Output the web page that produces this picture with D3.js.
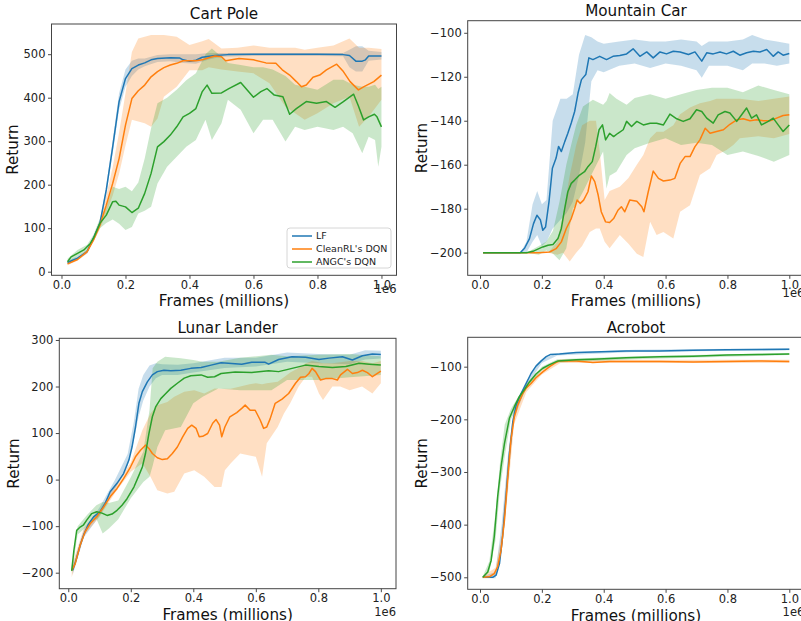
<!DOCTYPE html>
<html>
<head>
<meta charset="utf-8">
<script src="https://cdn.jsdelivr.net/npm/d3@7"></script>
<style>
  body { margin: 0; background: #fff; }
  svg { font-family: "DejaVu Sans", sans-serif; }
</style>
</head>
<body>
<div id="chart"></div>
<script>
// ---- data: [frames (millions), mean return] and bands [frames, lower, upper]
const seriesNames = ["LF", "CleanRL's DQN", "ANGC's DQN"];
const seriesColors = ["#1f77b4", "#ff7f0e", "#2ca02c"];
const xTicks = [0, 0.2, 0.4, 0.6, 0.8, 1.0];

const cartPoleYTicks = [0, 100, 200, 300, 400, 500];
const mountainCarYTicks = [-200, -180, -160, -140, -120, -100];
const lunarLanderYTicks = [-200, -100, 0, 100, 200, 300];
const acrobotYTicks = [-500, -400, -300, -200, -100];

const cartPoleLF = [[0.019,21],[0.05,31],[0.08,46],[0.1,77],[0.12,111],[0.14,188],[0.16,287],[0.18,391],[0.2,444],[0.22,467],[0.24,475],[0.26,480],[0.28,487],[0.3,490],[0.34,492],[0.37,491],[0.38,487],[0.4,484],[0.42,486],[0.44,493],[0.48,497],[0.52,499],[0.6,500],[0.7,500],[0.8,500],[0.88,499],[0.9,497],[0.92,484],[0.94,484],[0.95,487],[0.96,496],[1.0,496]];
const cartPoleLFBand = [[0.019,17,25],[0.05,27,35],[0.08,42,50],[0.1,72,82],[0.12,105,117],[0.14,178,198],[0.16,272,302],[0.18,372,410],[0.2,425,465],[0.22,450,485],[0.24,465,490],[0.26,472,490],[0.3,482,498],[0.34,484,500],[0.38,480,500],[0.42,478,500],[0.46,488,503],[0.5,494,503],[0.6,496,503],[0.7,496,503],[0.8,496,503],[0.88,495,503],[0.9,470,510],[0.92,460,518],[0.94,460,518],[0.96,485,508],[1.0,488,505]];
const cartPoleCleanRL = [[0.019,18],[0.05,28],[0.08,46],[0.1,73],[0.12,107],[0.14,153],[0.16,203],[0.18,260],[0.2,337],[0.22,398],[0.24,416],[0.26,429],[0.28,448],[0.3,460],[0.32,469],[0.34,475],[0.36,479],[0.38,485],[0.42,485],[0.44,487],[0.46,492],[0.48,496],[0.5,494],[0.513,485],[0.555,490],[0.6,487],[0.639,480],[0.67,479],[0.69,464],[0.713,452],[0.734,437],[0.75,425],[0.765,429],[0.786,447],[0.807,452],[0.828,464],[0.86,477],[0.881,460],[0.902,437],[0.928,418],[0.944,425],[0.976,437],[1.0,452]];
const cartPoleCleanRLBand = [[0.019,15,22],[0.05,25,32],[0.08,42,50],[0.1,68,80],[0.12,98,118],[0.14,135,175],[0.16,175,240],[0.18,225,320],[0.2,290,410],[0.22,349,505],[0.24,345,536],[0.26,341,540],[0.28,333,544],[0.3,352,544],[0.32,402,544],[0.36,425,540],[0.4,463,521],[0.44,463,530],[0.46,470,535],[0.5,465,513],[0.55,460,515],[0.6,456,520],[0.65,433,515],[0.7,379,515],[0.73,364,515],[0.76,349,510],[0.8,364,515],[0.85,387,520],[0.9,402,536],[0.93,333,515],[0.96,356,515],[1.0,395,512]];
const cartPoleANGC = [[0.019,23],[0.03,34],[0.05,42],[0.07,50],[0.09,65],[0.1,77],[0.12,111],[0.14,130],[0.16,161],[0.17,162],[0.18,153],[0.2,149],[0.22,136],[0.24,146],[0.26,180],[0.28,226],[0.3,287],[0.32,299],[0.34,314],[0.36,333],[0.38,356],[0.4,364],[0.42,375],[0.44,414],[0.455,429],[0.47,410],[0.5,411],[0.523,421],[0.56,435],[0.6,401],[0.623,414],[0.642,421],[0.665,406],[0.692,402],[0.713,362],[0.734,375],[0.765,391],[0.797,387],[0.828,391],[0.855,378],[0.881,391],[0.913,408],[0.928,381],[0.944,349],[0.96,356],[0.978,362],[0.986,356],[1.0,333]];
const cartPoleANGCBand = [[0.019,18,30],[0.05,35,50],[0.08,48,62],[0.1,70,85],[0.12,100,122],[0.14,112,150],[0.16,120,195],[0.18,110,190],[0.2,96,195],[0.22,103,185],[0.24,134,205],[0.26,140,260],[0.28,149,330],[0.3,203,387],[0.33,241,400],[0.36,264,418],[0.39,287,440],[0.42,303,456],[0.45,349,500],[0.47,303,513],[0.5,341,494],[0.52,395,480],[0.56,372,475],[0.6,318,470],[0.63,349,470],[0.66,349,465],[0.7,299,450],[0.73,333,430],[0.76,326,425],[0.8,333,418],[0.85,326,441],[0.88,333,441],[0.91,318,430],[0.94,272,425],[0.96,310,425],[0.98,303,430],[0.99,241,420],[1.0,287,425]];

const mountainCarLF = [[0.01,-200],[0.13,-200],[0.144,-198],[0.16,-193.6],[0.173,-186.8],[0.184,-183],[0.195,-185],[0.203,-189.8],[0.212,-188.3],[0.223,-176.9],[0.234,-161.6],[0.246,-157],[0.254,-151.7],[0.263,-154],[0.274,-149.5],[0.284,-145.7],[0.295,-141],[0.306,-135.8],[0.317,-127.4],[0.328,-121.3],[0.342,-119],[0.352,-111.4],[0.365,-112.2],[0.387,-110.7],[0.409,-112.2],[0.43,-110.7],[0.452,-110.3],[0.474,-109.6],[0.495,-107.3],[0.517,-110.7],[0.539,-108.7],[0.56,-111.4],[0.582,-108.7],[0.603,-109.6],[0.625,-108.4],[0.647,-108.7],[0.674,-109.9],[0.695,-108.7],[0.717,-112.9],[0.733,-109.1],[0.754,-109.6],[0.776,-108.7],[0.797,-109.6],[0.819,-108.4],[0.84,-110.2],[0.862,-109.1],[0.884,-108.4],[0.905,-108.7],[0.927,-107.6],[0.948,-110.7],[0.964,-108.7],[0.98,-110.2],[1.0,-109.4]];
const mountainCarLFBand = [[0.01,-200,-200],[0.13,-200,-200],[0.15,-200,-195],[0.17,-195,-178],[0.185,-192,-172],[0.2,-197,-178],[0.215,-195,-176],[0.235,-189,-140],[0.26,-185,-130],[0.28,-182,-130],[0.3,-176.9,-128],[0.32,-165,-110],[0.34,-150,-101],[0.36,-122,-102],[0.38,-117,-104],[0.4,-118,-105],[0.45,-115,-104],[0.5,-114,-103],[0.55,-116,-104],[0.6,-114,-104],[0.65,-115,-103],[0.7,-117,-104],[0.717,-120.5,-106],[0.74,-115,-104],[0.8,-115,-104],[0.85,-117,-103],[0.88,-114,-101],[0.92,-114,-103],[0.96,-115,-104],[1.0,-114,-105]];
const mountainCarCleanRL = [[0.01,-200],[0.19,-200],[0.225,-199.7],[0.246,-198.2],[0.263,-195.1],[0.279,-189],[0.295,-184.5],[0.306,-179.9],[0.314,-176.1],[0.324,-177.6],[0.335,-176.1],[0.349,-172.3],[0.36,-165.1],[0.371,-167.7],[0.382,-173.8],[0.392,-181.4],[0.406,-186],[0.419,-186.3],[0.432,-184.5],[0.446,-180.7],[0.457,-179.1],[0.468,-181.4],[0.484,-176.1],[0.507,-176.6],[0.523,-179.1],[0.53,-181.4],[0.544,-172.3],[0.56,-162.9],[0.577,-166.2],[0.593,-167.4],[0.614,-167],[0.63,-166.2],[0.647,-159.4],[0.663,-156.3],[0.679,-156.3],[0.695,-151.8],[0.711,-148.7],[0.728,-143.4],[0.744,-145.7],[0.765,-144.9],[0.787,-144.1],[0.808,-141.6],[0.83,-139.6],[0.851,-139.1],[0.873,-140],[0.894,-139.6],[0.916,-140],[0.938,-140],[0.959,-138.8],[0.98,-137.6],[1.0,-137.3]];
const mountainCarCleanRLBand = [[0.01,-200,-200],[0.22,-200,-200],[0.25,-201,-195],[0.268,-200,-183],[0.29,-204,-165],[0.311,-200,-151],[0.33,-197,-142],[0.355,-190.6,-140],[0.375,-189,-140],[0.387,-189,-154],[0.403,-195,-176],[0.419,-198,-172],[0.452,-192,-170],[0.48,-196,-166],[0.507,-200.5,-160],[0.528,-202,-155.6],[0.55,-186,-148],[0.571,-192,-145],[0.593,-190.6,-145],[0.625,-193.6,-142],[0.647,-181.4,-137],[0.679,-178.4,-134],[0.711,-164.7,-132],[0.744,-161.6,-131],[0.765,-155.6,-130],[0.797,-153.3,-130],[0.819,-151,-130],[0.84,-148,-130],[0.9,-147,-131],[0.95,-148,-130],[1.0,-146,-129]];
const mountainCarANGC = [[0.01,-200],[0.15,-200],[0.171,-199.4],[0.203,-197.4],[0.22,-196.6],[0.236,-196.3],[0.252,-193.6],[0.263,-189],[0.274,-179.9],[0.284,-172.3],[0.295,-168.5],[0.306,-167],[0.322,-164.7],[0.338,-163.2],[0.349,-160.9],[0.363,-158.6],[0.374,-151.8],[0.385,-144.1],[0.396,-141.9],[0.406,-148.7],[0.419,-145.7],[0.432,-147.2],[0.446,-145.7],[0.463,-144.1],[0.474,-140.3],[0.49,-142.6],[0.507,-140.3],[0.528,-141.9],[0.55,-141.1],[0.571,-141.1],[0.593,-141.9],[0.614,-137],[0.636,-139.1],[0.657,-140.3],[0.679,-139.1],[0.7,-135],[0.717,-135.8],[0.733,-138.8],[0.754,-141.1],[0.77,-137.3],[0.792,-135.8],[0.808,-136.5],[0.83,-140.3],[0.846,-137.3],[0.862,-134.2],[0.878,-138.8],[0.894,-137.3],[0.91,-141.9],[0.932,-140.3],[0.948,-138.8],[0.964,-141.9],[0.98,-144.9],[1.0,-141.9]];
const mountainCarANGCBand = [[0.01,-200,-200],[0.15,-200,-200],[0.19,-201,-197],[0.214,-199,-195],[0.236,-200.5,-190],[0.257,-203.5,-176.9],[0.279,-198,-160],[0.3,-180,-148],[0.311,-178,-141.9],[0.333,-172.3,-133.5],[0.365,-163.2,-130.4],[0.398,-154,-132.7],[0.409,-170.8,-131],[0.419,-165,-127.4],[0.441,-163.2,-130],[0.474,-155.6,-132.7],[0.5,-152.5,-129.7],[0.55,-150,-128],[0.6,-148,-130],[0.65,-151,-128],[0.7,-150,-126],[0.75,-151,-125],[0.8,-155.6,-125],[0.85,-154,-127],[0.9,-156,-124],[0.95,-158.6,-126],[1.0,-155.6,-128]];

const lunarLanderLF = [[0.014,-195],[0.025,-173],[0.038,-141],[0.051,-116],[0.065,-95],[0.081,-80],[0.102,-69],[0.118,-51],[0.134,-26],[0.156,-8],[0.177,13],[0.194,42],[0.204,70],[0.215,113],[0.226,164],[0.237,189],[0.253,210],[0.269,225],[0.285,232],[0.306,235],[0.328,234],[0.36,235],[0.392,239],[0.425,241],[0.457,246],[0.489,251],[0.512,250],[0.555,248],[0.587,252],[0.63,252],[0.641,248],[0.673,258],[0.716,264],[0.759,263],[0.802,258],[0.834,261],[0.877,264],[0.909,257],[0.941,266],[0.973,270],[1.0,269]];
const lunarLanderLFBand = [[0.014,-205,-185],[0.05,-124,-108],[0.1,-78,-60],[0.15,-20,0],[0.19,30,55],[0.21,85,125],[0.225,135,195],[0.24,170,225],[0.26,200,245],[0.28,218,250],[0.3,225,248],[0.35,225,247],[0.4,230,250],[0.5,240,262],[0.6,243,262],[0.7,253,273],[0.8,250,270],[0.9,248,268],[0.95,258,278],[1.0,260,277]];
const lunarLanderCleanRL = [[0.011,-195],[0.022,-181],[0.038,-141],[0.054,-112],[0.07,-95],[0.091,-80],[0.113,-59],[0.134,-37],[0.156,-19],[0.177,2],[0.199,27],[0.215,49],[0.231,63],[0.247,74],[0.258,67],[0.269,56],[0.285,47],[0.301,43],[0.317,45],[0.333,56],[0.349,70],[0.366,92],[0.382,110],[0.395,117],[0.409,110],[0.419,92],[0.43,93],[0.446,99],[0.462,121],[0.473,129],[0.484,117],[0.491,92],[0.501,113],[0.517,135],[0.539,144],[0.555,153],[0.566,160],[0.582,149],[0.598,149],[0.614,128],[0.625,110],[0.635,113],[0.646,131],[0.662,164],[0.684,173],[0.705,185],[0.727,207],[0.743,220],[0.759,221],[0.77,228],[0.78,239],[0.791,232],[0.807,214],[0.823,217],[0.845,217],[0.861,214],[0.871,225],[0.893,237],[0.909,228],[0.925,230],[0.941,235],[0.957,230],[0.973,221],[0.989,228],[1.0,233]];
const lunarLanderCleanRLBand = [[0.011,-210,-185],[0.05,-120,-104],[0.1,-80,-66],[0.15,-28,-12],[0.2,17,37],[0.237,35,106],[0.263,6,142],[0.285,-23,160],[0.317,-30,167],[0.339,-26,178],[0.371,13,189],[0.403,20,192],[0.435,6,185],[0.468,-16,196],[0.49,-16,195],[0.501,20,195],[0.52,35,195],[0.55,56,200],[0.58,52,205],[0.6,49,207],[0.62,6,205],[0.635,78,207],[0.67,113,210],[0.69,142,220],[0.71,164,230],[0.737,200,240],[0.76,221,250],[0.78,221,255],[0.802,185,252],[0.815,171,250],[0.845,200,250],[0.87,200,252],[0.9,192,255],[0.94,200,255],[0.973,185,250],[1.0,207,255]];
const lunarLanderANGC = [[0.011,-196],[0.018,-152],[0.027,-109],[0.038,-102],[0.048,-98],[0.059,-87],[0.075,-73],[0.091,-69],[0.108,-72],[0.124,-77],[0.14,-74],[0.156,-66],[0.172,-55],[0.188,-41],[0.21,-16],[0.226,9],[0.237,27],[0.247,56],[0.258,99],[0.269,135],[0.28,157],[0.296,174],[0.312,185],[0.328,196],[0.349,207],[0.371,218],[0.392,223],[0.425,225],[0.446,220],[0.468,221],[0.489,228],[0.534,231],[0.587,230],[0.641,234],[0.673,232],[0.716,239],[0.759,246],[0.802,243],[0.845,241],[0.888,243],[0.93,250],[0.963,248],[1.0,246]];
const lunarLanderANGCBand = [[0.011,-200,-190],[0.03,-118,-100],[0.06,-100,-76],[0.09,-84,-55],[0.11,-116,-48],[0.13,-105,-50],[0.16,-85,-45],[0.2,-40,5],[0.24,-5,60],[0.26,6,150],[0.27,30,239],[0.285,70,253],[0.31,106,264],[0.36,113,261],[0.4,164,257],[0.43,178,253],[0.48,196,253],[0.55,192,262],[0.65,192,268],[0.7,214,265],[0.8,214,268],[0.9,220,270],[1.0,225,265]];

const acrobotLF = [[0.009,-500],[0.041,-500],[0.052,-496],[0.063,-474],[0.073,-423],[0.084,-347],[0.095,-265],[0.106,-205],[0.117,-173],[0.133,-151],[0.149,-132],[0.165,-113],[0.181,-99],[0.198,-89],[0.214,-81],[0.227,-77],[0.257,-76],[0.311,-73],[0.365,-72],[0.473,-70],[0.581,-70],[0.689,-69],[0.797,-68],[1.0,-67]];
const acrobotLFBand = [[0.009,-502,-498],[0.05,-502,-490],[0.07,-450,-400],[0.09,-320,-270],[0.11,-200,-175],[0.15,-137,-127],[0.2,-93,-86],[0.25,-79,-74],[0.5,-72,-68],[1.0,-69,-65]];
const acrobotCleanRL = [[0.009,-500],[0.03,-499],[0.046,-493],[0.057,-480],[0.068,-449],[0.079,-392],[0.09,-309],[0.1,-239],[0.111,-195],[0.122,-173],[0.138,-151],[0.149,-141],[0.165,-132],[0.181,-121],[0.203,-110],[0.225,-100],[0.246,-92],[0.257,-89],[0.311,-89],[0.365,-92],[0.419,-90],[0.5,-90],[0.581,-90],[0.689,-91],[0.797,-90],[0.9,-89],[1.0,-90]];
const acrobotCleanRLBand = [[0.009,-502,-498],[0.05,-495,-482],[0.07,-450,-420],[0.09,-340,-280],[0.11,-210,-185],[0.15,-148,-134],[0.2,-115,-106],[0.26,-93,-86],[0.5,-93,-87],[1.0,-93,-87]];
const acrobotANGC = [[0.009,-500],[0.025,-490],[0.036,-468],[0.046,-423],[0.057,-347],[0.068,-290],[0.079,-246],[0.095,-198],[0.111,-176],[0.127,-157],[0.144,-143],[0.16,-129],[0.181,-114],[0.203,-103],[0.225,-96],[0.252,-89],[0.311,-87],[0.365,-86],[0.473,-83],[0.581,-81],[0.689,-80],[0.797,-78],[0.9,-77],[1.0,-76]];
const acrobotANGCBand = [[0.009,-502,-498],[0.03,-490,-470],[0.05,-430,-380],[0.065,-330,-280],[0.08,-270,-210],[0.1,-200,-180],[0.15,-142,-132],[0.2,-107,-100],[0.25,-92,-86],[0.5,-86,-80],[1.0,-78,-74]];

// ---- layout
const panels = [
  { title: "Cart Pole", frame: {left: 51.5, right: 396.5, top: 24, bottom: 275.3},
    xDomain: [-0.03125, 1.047], yDomain: [-8.3, 569.4], yTicks: cartPoleYTicks,
    lines: [cartPoleLF, cartPoleCleanRL, cartPoleANGC], bands: [cartPoleLFBand, cartPoleCleanRLBand, cartPoleANGCBand],
    titleY: 19.3, xLabelY: 306, yLabelX: 13, offsetY: 293, legend: true },
  { title: "Mountain Car", frame: {left: 467.7, right: 804.3, top: 20.7, bottom: 275.3},
    xDomain: [-0.0398, 1.0485], yDomain: [-210.3, -94.5], yTicks: mountainCarYTicks,
    lines: [mountainCarLF, mountainCarCleanRL, mountainCarANGC], bands: [mountainCarLFBand, mountainCarCleanRLBand, mountainCarANGCBand],
    titleY: 16, xLabelY: 306, yLabelX: 421.7, offsetY: 297 },
  { title: "Lunar Lander", frame: {left: 59.3, right: 396, top: 338.3, bottom: 588.7},
    xDomain: [-0.0287, 1.0485], yDomain: [-234.4, 303.6], yTicks: lunarLanderYTicks,
    lines: [lunarLanderLF, lunarLanderCleanRL, lunarLanderANGC], bands: [lunarLanderLFBand, lunarLanderCleanRLBand, lunarLanderANGCBand],
    titleY: 333.3, xLabelY: 620, yLabelX: 13.5, offsetY: 616 },
  { title: "Acrobot", frame: {left: 467.7, right: 804.3, top: 337.3, bottom: 589.3},
    xDomain: [-0.0398, 1.0485], yDomain: [-522.8, -44.2], yTicks: acrobotYTicks,
    lines: [acrobotLF, acrobotCleanRL, acrobotANGC], bands: [acrobotLFBand, acrobotCleanRLBand, acrobotANGCBand],
    titleY: 333.3, xLabelY: 621, yLabelX: 421.7, offsetY: 616 }
];

const svg = d3.select("#chart").append("svg")
  .attr("width", 801)
  .attr("height", 621);

panels.forEach((p, i) => {
  const f = p.frame;
  const x = d3.scaleLinear().domain(p.xDomain).range([f.left, f.right]);
  const y = d3.scaleLinear().domain(p.yDomain).range([f.bottom, f.top]);
  const g = svg.append("g");

  g.append("clipPath").attr("id", "clip" + i)
    .append("rect")
    .attr("x", f.left).attr("y", f.top)
    .attr("width", f.right - f.left).attr("height", f.bottom - f.top);

  const plot = g.append("g").attr("clip-path", `url(#clip${i})`);

  const area = d3.area()
    .x(d => x(d[0]))
    .y0(d => y(d[1]))
    .y1(d => y(d[2]));
  const line = d3.line()
    .x(d => x(d[0]))
    .y(d => y(d[1]));

  p.bands.forEach((b, j) => {
    plot.append("path").datum(b)
      .attr("d", area)
      .attr("fill", seriesColors[j])
      .attr("fill-opacity", 0.25);
  });
  p.lines.forEach((l, j) => {
    plot.append("path").datum(l)
      .attr("d", line)
      .attr("fill", "none")
      .attr("stroke", seriesColors[j])
      .attr("stroke-width", 1.5)
      .attr("stroke-linejoin", "round");
  });

  // axes
  const xAxis = g.append("g")
    .attr("transform", `translate(0,${f.bottom})`)
    .call(d3.axisBottom(x).tickValues(xTicks).tickFormat(d3.format(".1f")).tickSize(3.5).tickPadding(2));
  const yAxis = g.append("g")
    .attr("transform", `translate(${f.left},0)`)
    .call(d3.axisLeft(y).tickValues(p.yTicks).tickFormat(d3.format("d")).tickSize(3.5).tickPadding(2.5));
  [xAxis, yAxis].forEach(a => {
    a.select(".domain").remove();
    a.selectAll(".tick line").attr("stroke", "#333").attr("stroke-width", 0.9);
    a.selectAll(".tick text").attr("font-size", 11.5).attr("fill", "#222")
      .attr("font-family", "DejaVu Sans, sans-serif");
  });

  // frame
  g.append("rect")
    .attr("x", f.left).attr("y", f.top)
    .attr("width", f.right - f.left).attr("height", f.bottom - f.top)
    .attr("fill", "none").attr("stroke", "#444").attr("stroke-width", 1);

  // texts
  const cx = (f.left + f.right) / 2;
  g.append("text").attr("x", cx).attr("y", p.titleY)
    .attr("text-anchor", "middle").attr("font-size", 15.2).attr("fill", "#111")
    .text(p.title);
  g.append("text").attr("x", cx).attr("y", p.xLabelY)
    .attr("text-anchor", "middle").attr("font-size", 15.2).attr("fill", "#111")
    .text("Frames (millions)");
  g.append("text")
    .attr("transform", `translate(${p.yLabelX},${(f.top + f.bottom) / 2}) rotate(-90)`)
    .attr("dy", "0.36em")
    .attr("text-anchor", "middle").attr("font-size", 15.2).attr("fill", "#111")
    .text("Return");
  g.append("text").attr("x", f.right).attr("y", p.offsetY)
    .attr("text-anchor", "end").attr("font-size", 11.5).attr("fill", "#222")
    .text("1e6");

  if (p.legend) {
    const lg = g.append("g").attr("transform", "translate(287,228)");
    lg.append("rect")
      .attr("width", 104).attr("height", 40).attr("rx", 3)
      .attr("fill", "#fff").attr("fill-opacity", 0.8)
      .attr("stroke", "#ccc").attr("stroke-width", 0.8);
    seriesNames.forEach((name, j) => {
      const ly = 8 + j * 13;
      lg.append("line")
        .attr("x1", 5).attr("x2", 25).attr("y1", ly).attr("y2", ly)
        .attr("stroke", seriesColors[j]).attr("stroke-width", 1.5);
      lg.append("text").attr("x", 29).attr("y", ly).attr("dy", "0.35em")
        .attr("font-size", 9.5).attr("fill", "#222")
        .text(name);
    });
  }
});
</script>
</body>
</html>
